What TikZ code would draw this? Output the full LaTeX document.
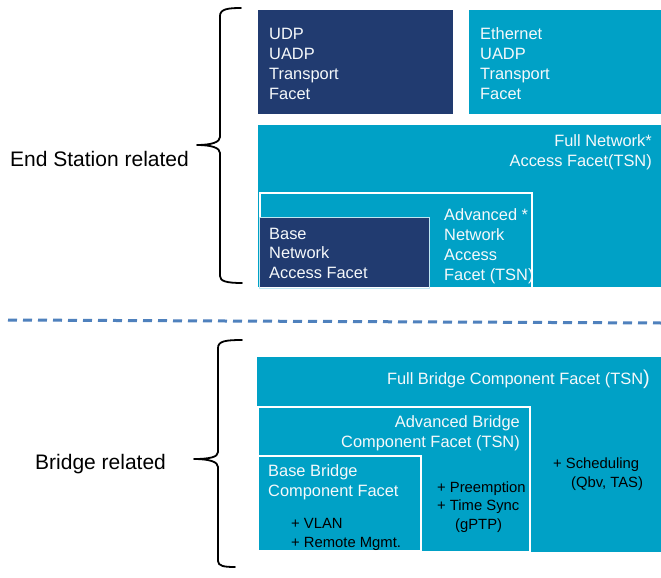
\documentclass[tikz,border=0pt]{standalone}
\usepackage{fontspec}
\setmainfont{Liberation Sans}
\definecolor{navy}{RGB}{33,59,112}
\definecolor{tsnblue}{RGB}{0,161,198}
\definecolor{sepblue}{RGB}{79,129,189}
\definecolor{offwhite}{RGB}{246,249,251}
\tikzset{
  facettext/.style={text=offwhite, inner sep=0pt, align=left, font=\fontsize{16.4}{20}\selectfont},
  facettextr/.style={facettext, align=right},
  featuretext/.style={text=black, inner sep=0pt, align=left, font=\fontsize{14.8}{18.5}\selectfont},
  grouplabel/.style={text=black, inner sep=0pt, font=\fontsize{21}{25}\selectfont},
  bracepath/.style={draw=black, line width=1.8pt, line cap=round, line join=round},
  sepline/.style={draw=sepblue, line width=3pt, dash pattern=on 9pt off 6pt},
  innerborder/.style={draw=white, line width=2pt},
}
\begin{document}
\begin{tikzpicture}[x=1pt,y=-1pt]
  % canvas
  \fill[white] (0,0) rectangle (661,578);
  \useasboundingbox (0,0) rectangle (661,578);

  % ---------- end station facets ----------
  % multi-line nodes are placed by the baseline of their last line
  \fill[navy] (258,10) rectangle (453,114);
  \fill[tsnblue] (469,10) rectangle (661,114);
  \fill[tsnblue] (258,125) rectangle (661,287);
  \fill[tsnblue] (260,193) rectangle (532,287);
  \draw[innerborder] (260,193) rectangle (532,288);
  \fill[navy] (259.5,217.5) rectangle (429,287);
  \draw[draw=white!75!tsnblue, line width=1pt] (259.5,217.5) rectangle (429,288);

  \node[facettext, anchor=base west] (udp) at (269,99.3) {UDP\\UADP\\Transport\\Facet};
  \node[facettext, anchor=base west] (eth) at (480,99.3) {Ethernet\\UADP\\Transport\\Facet};
  \node[facettextr, anchor=base east] (fullna) at (652,166.5) {Full Network*\\Access Facet(TSN)};
  \begin{scope}
    \clip (261,194) rectangle (531,287);
    \node[facettext, anchor=base west] (advna) at (444,280) {Advanced *\\Network\\Access\\Facet (TSN)};
  \end{scope}
  \node[facettext, font=\fontsize{16.4}{19.5}\selectfont, anchor=base west] (basena) at (269,278.3) {Base\\Network\\Access Facet};

  % ---------- separator ----------
  \coordinate (sepL) at (8,320);
  \coordinate (sepR) at (661,323);
  \draw[sepline] (sepL) -- (sepR);

  % ---------- bridge facets ----------
  \fill[tsnblue] (257,357) rectangle (661,552);
  \draw[innerborder, fill=tsnblue] (258,407) rectangle (530,552);
  \draw[innerborder, fill=tsnblue] (258,456) rectangle (421,551);

  \node[facettextr, anchor=base east] (fullbr) at (650,384) {Full Bridge Component Facet (TSN{\fontsize{20}{20}\selectfont)}};
  \node[facettextr, anchor=base east] (advbr) at (520,447.3) {Advanced Bridge\\Component Facet (TSN)};
  \node[facettext, anchor=base west] (basebr) at (268,496) {Base Bridge\\Component Facet};
  \node[featuretext, anchor=base west] (basefeat) at (291,547.3) {+ VLAN\\+ Remote Mgmt.};
  \node[featuretext, anchor=base west] (advfeat) at (437,529.3) {+ Preemption\\+ Time Sync\\\hspace*{18pt}(gPTP)};
  \node[featuretext, anchor=base west] (fullfeat) at (553,487) {+ Scheduling\\\hspace*{18pt}(Qbv, TAS)};

  % ---------- group braces and labels ----------
  \draw[bracepath] (241,8) .. controls (228,8) and (220,9) .. (220,16)
    -- (220,137) .. controls (220,142) and (212,145) .. (197,145)
    .. controls (212,145) and (220,148) .. (220,153)
    -- (220,276) .. controls (220,281) and (226,283) .. (242,283);
  \draw[bracepath] (242,340) .. controls (226,340) and (218,341) .. (218,348)
    -- (218,452) .. controls (218,457) and (210,459) .. (194,459)
    .. controls (210,459) and (218,462) .. (218,467)
    -- (218,561) .. controls (218,566) and (224,567) .. (235,567);

  \node[grouplabel, anchor=base west] (eslabel) at (10,166.7) {End Station related};
  \node[grouplabel, anchor=base west] (brlabel) at (35,469) {Bridge related};
\end{tikzpicture}
\end{document}
